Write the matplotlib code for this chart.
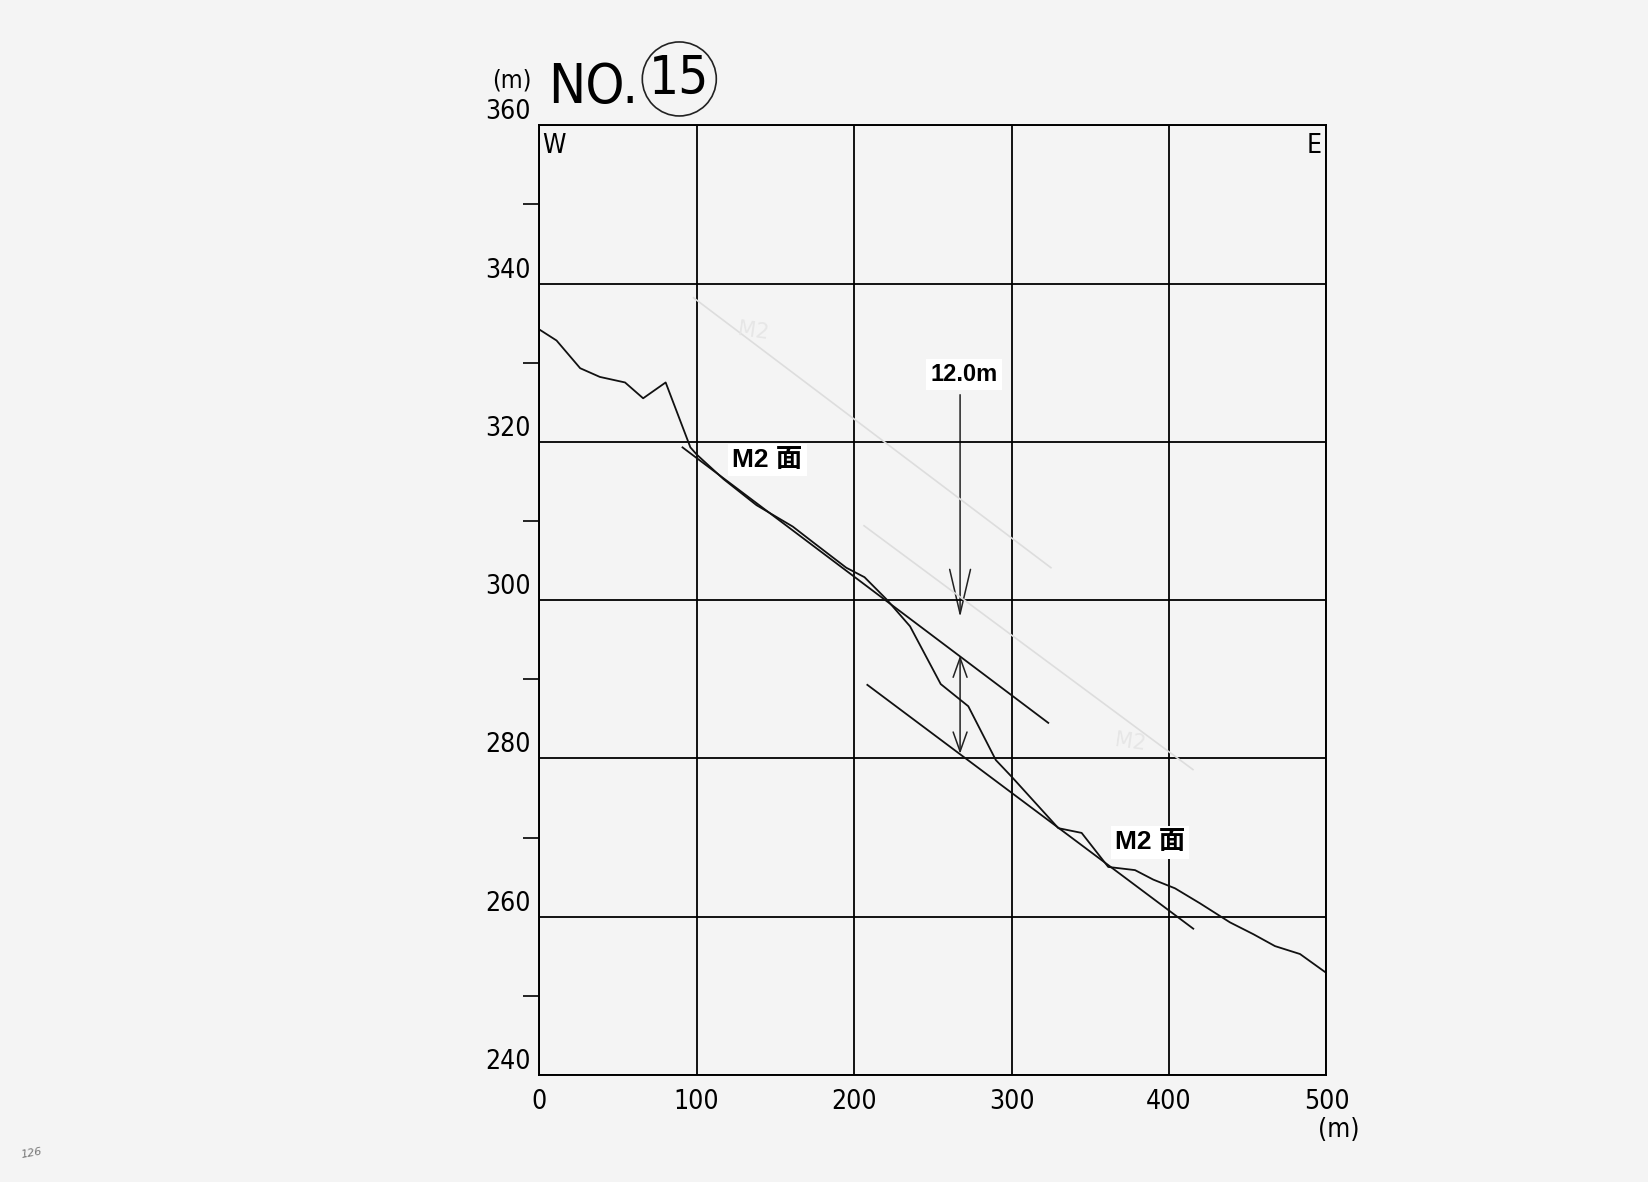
import matplotlib
matplotlib.use("Agg")
import matplotlib.pyplot as plt
from matplotlib.patches import FancyArrowPatch, Ellipse

# ground profile (distance m, elevation m)
dist = [0, 11, 26, 38.5, 54.5, 66, 80.3, 96, 100, 117, 138, 161, 174, 195, 206.6,
        220.6, 235.5, 255, 272.5, 290, 300.5, 329.7, 344.5, 361.4, 378.4, 390,
        403.8, 419.7, 438.7, 453.6, 467.3, 483.2, 500]
elev = [334.2, 332.8, 329.3, 328.2, 327.5, 325.5, 327.5, 319.3, 318.4, 315.3,
        312.0, 309.3, 307.3, 304.1, 302.9, 300.1, 296.7, 289.4, 286.6, 279.8,
        277.6, 271.2, 270.6, 266.3, 265.9, 264.7, 263.6, 261.7, 259.3, 257.8,
        256.3, 255.3, 252.9]

# M2 surface lines (start / end)
m2_upper_x = [91, 323.3]
m2_upper_y = [319.3, 284.5]
m2_lower_x = [208.4, 415.4]
m2_lower_y = [289.3, 258.5]

# faint pencil lines on the sheet
faint1_x = [98, 325]
faint1_y = [338.2, 304.1]
faint2_x = [206.3, 415.2]
faint2_y = [309.4, 278.6]

arrow_x = 267.3
gap_top, gap_bot = 293.0, 280.6
arrow_from, arrow_to = 326.3, 297.5

x_ticks = [0, 100, 200, 300, 400, 500]
y_ticks = [240, 260, 280, 300, 320, 340, 360]
y_minor = [250, 270, 290, 310, 330, 350]

paper = "#f4f4f4"
num_font = ["DejaVu Sans"]
lab_font = ["Liberation Sans", "Noto Sans CJK JP"]

fig = plt.figure(figsize=(16.48, 11.82), dpi=100, facecolor=paper)
ax = fig.add_axes([0.3272, 0.0904, 0.4777, 0.8037], facecolor=paper)

ax.set_xlim(0, 500)
ax.set_ylim(240, 360)
ax.set_xticks(x_ticks)
ax.set_yticks(y_ticks)
ax.set_yticks(y_minor, minor=True)
ax.set_xticklabels([str(v) for v in x_ticks], family=num_font, fontsize=19,
                   stretch="condensed")
ax.set_yticklabels([str(v) for v in y_ticks], family=num_font, fontsize=19,
                   stretch="condensed")
for lab in ax.get_yticklabels():
    lab.set_va("bottom")
ax.tick_params(axis="both", which="major", length=0, pad=10)
ax.tick_params(axis="y", which="major", pad=6)
ax.tick_params(axis="y", which="minor", length=11.5, width=1.2, direction="out")
ax.grid(True, color="black", lw=1.3)
for s in ax.spines.values():
    s.set_linewidth(1.4)

ax.plot(faint1_x, faint1_y, color="#dddddd", lw=1.2)
ax.plot(faint2_x, faint2_y, color="#dddddd", lw=1.2)
ax.text(125, 333, "M2", color="#e6e6e6", fontsize=15, family=num_font, rotation=-8)
ax.text(365, 281, "M2", color="#e6e6e6", fontsize=15, family=num_font, rotation=-8)

ax.plot(dist, elev, color="#111111", lw=1.3)
ax.plot(m2_upper_x, m2_upper_y, color="#111111", lw=1.3)
ax.plot(m2_lower_x, m2_lower_y, color="#111111", lw=1.3)

ax.add_patch(FancyArrowPatch((arrow_x, arrow_from), (arrow_x, arrow_to),
                             arrowstyle="->,head_length=3.2,head_width=0.75",
                             mutation_scale=10, color="#222222", lw=1.1))
ax.add_patch(FancyArrowPatch((arrow_x, gap_top), (arrow_x, gap_bot),
                             arrowstyle="<->,head_length=1.4,head_width=0.5",
                             mutation_scale=10, color="#222222", lw=1.1,
                             shrinkA=0, shrinkB=0))

box = dict(facecolor="white", edgecolor="none", pad=3)
ax.text(145, 317.7, "M2 面", family=lab_font, fontsize=19, fontweight="bold",
        ha="center", va="center", bbox=box)
ax.text(388, 269.4, "M2 面", family=lab_font, fontsize=19, fontweight="bold",
        ha="center", va="center", bbox=box)
ax.text(269.9, 328.5, "12.0m", family=lab_font, fontsize=17, fontweight="bold",
        ha="center", va="center", bbox=box)

ax.text(2, 359, "W", family=num_font, fontsize=19, ha="left", va="top",
        stretch="condensed")
ax.text(497, 359, "E", family=num_font, fontsize=19, ha="right", va="top",
        stretch="condensed")

# sheet title
fig.text(0.3105, 0.932, "(m)", family=num_font, fontsize=18, ha="center",
         va="center", stretch="condensed")
fig.text(0.3325, 0.9126, "NO.", family=num_font, fontsize=40, ha="left",
         va="baseline", stretch="condensed")
fig.text(0.4122, 0.933, "15", family=num_font, fontsize=38, ha="center", va="center",
         stretch="condensed")
fig.add_artist(Ellipse((0.4122, 0.9332), 74 / 1648, 74 / 1182,
                       transform=fig.transFigure, fc="none", ec="#222222", lw=1.2))
ax.text(1.015, -0.0575, "(m)", transform=ax.transAxes, family=num_font, fontsize=19,
        ha="center", va="center", stretch="condensed")
fig.text(0.012, 0.02, "126", fontsize=8, color="#777777", style="italic", rotation=10)

fig.savefig("out.png", dpi=100, facecolor=paper)
